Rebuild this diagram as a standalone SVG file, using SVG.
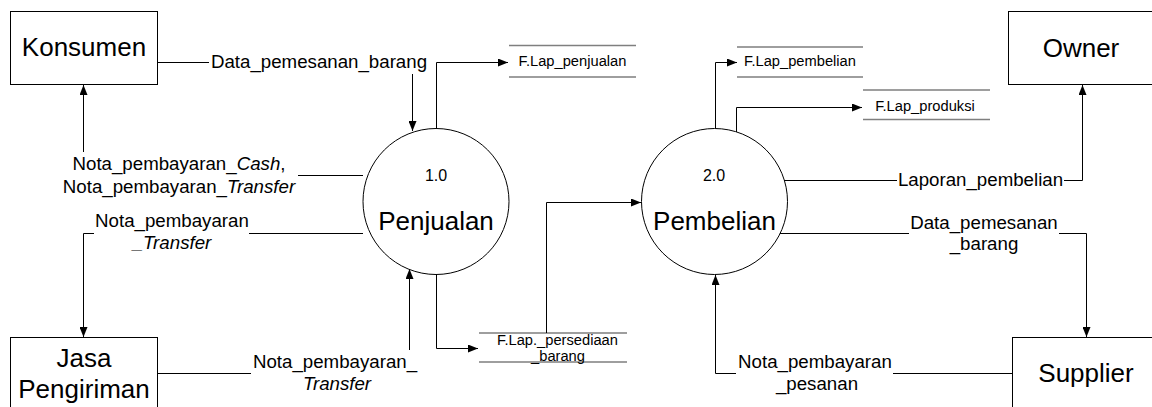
<svg xmlns="http://www.w3.org/2000/svg" width="1152" height="407" viewBox="0 0 1152 407">
<style>
.box{fill:#fff;stroke:#000;stroke-width:1}
.proc{fill:#fff;stroke:#000;stroke-width:1}
.ent{font-family:"Liberation Sans",Arial,sans-serif;font-size:26px;fill:#000;text-anchor:middle}
.num{font-family:"Liberation Sans",Arial,sans-serif;font-size:16px;fill:#000;text-anchor:middle}
.lbl{font-family:"Liberation Sans",Arial,sans-serif;font-size:18.7px;fill:#000;text-anchor:middle}
.st{font-family:"Liberation Sans",Arial,sans-serif;font-size:14.7px;fill:#000;text-anchor:middle}
.stl{stroke:#7f7f7f;stroke-width:1.3;fill:none}
.con{stroke:#000;stroke-width:1;fill:none;marker-end:url(#arr)}
.ln{stroke:#000;stroke-width:1;fill:none}
</style>
<defs>
<marker id="arr" markerWidth="10" markerHeight="8" refX="10" refY="4" orient="auto" markerUnits="userSpaceOnUse">
<path d="M0,0 L10,4 L0,8 z" fill="#000"/>
</marker>
</defs>
<rect width="1152" height="407" fill="#fff"/>

<g id="konsumen">
<rect class="box" x="10.5" y="11.5" width="147" height="73"/>
<text class="ent" x="84" y="56">Konsumen</text>
</g>
<g id="jasa">
<rect class="box" x="10.5" y="337.5" width="147" height="73"/>
<text class="ent" x="84" y="367">Jasa</text>
<text class="ent" x="84" y="398">Pengiriman</text>
</g>
<g id="owner">
<rect class="box" x="1008.5" y="11.5" width="147" height="73"/>
<text class="ent" x="1081" y="57">Owner</text>
</g>
<g id="supplier">
<rect class="box" x="1012.5" y="337.5" width="148" height="73"/>
<text class="ent" x="1086" y="382">Supplier</text>
</g>

<g id="p1">
<circle class="proc" cx="436" cy="201.5" r="73"/>
<text class="num" x="436" y="181">1.0</text>
<text class="ent" x="436" y="230">Penjualan</text>
</g>
<g id="p2">
<circle class="proc" cx="714.5" cy="201.5" r="73"/>
<text class="num" x="714" y="181">2.0</text>
<text class="ent" x="714.5" y="230">Pembelian</text>
</g>

<g id="ds-penjualan">
<path class="stl" d="M509,45.5 H636 M509,77 H636"/>
<text class="st" x="572.5" y="66">F.Lap_penjualan</text>
</g>
<g id="ds-pembelian">
<path class="stl" d="M737,47 H863 M737,77 H863"/>
<text class="st" x="800" y="66">F.Lap_pembelian</text>
</g>
<g id="ds-produksi">
<path class="stl" d="M863,90 H990 M863,119.5 H990"/>
<text class="st" x="925" y="111">F.Lap_produksi</text>
</g>
<g id="ds-persediaan">
<path class="stl" d="M479,333 H627 M479,362 H627"/>
<text class="st" x="557.5" y="345">F.Lap._persediaan</text>
<text class="st" x="558" y="361">_barang</text>
</g>

<g id="connectors">
<path class="con" d="M157,62.5 H209 M412.5,74 V131"/>
<path class="con" d="M436.5,128 V62.5 H508"/>
<path class="con" d="M363,175.5 H298 M83.5,152 V85"/>
<path class="con" d="M363,233.5 H249 M94,233.5 H83.5 V337"/>
<path class="con" d="M157,373.5 H251 M409.5,350 V269"/>
<path class="con" d="M436.5,274 V348.5 H478"/>
<path class="con" d="M546.5,333 V202.5 H641"/>
<path class="con" d="M715.5,128 V62.5 H737"/>
<path class="con" d="M736.5,132 V107.5 H862"/>
<path class="con" d="M784,180.5 H897 M1064,180.5 H1082.5 V85"/>
<path class="con" d="M780,233.5 H909 M1059,233.5 H1086.5 V337"/>
<path class="con" d="M1012,373.5 H893 M736,373.5 H715.5 V275"/>
</g>

<g id="labels">
<text class="lbl" x="319" y="68">Data_pemesanan_barang</text>
<text class="lbl" x="179" y="170">Nota_pembayaran_<tspan font-style="italic">Cash</tspan>,</text>
<text class="lbl" x="179" y="193">Nota_pembayaran_<tspan font-style="italic">Transfer</tspan></text>
<text class="lbl" x="172" y="227">Nota_pembayaran</text>
<text class="lbl" x="172" y="249" font-style="italic">_Transfer</text>
<text class="lbl" x="335" y="368">Nota_pembayaran_</text>
<text class="lbl" x="337" y="390" font-style="italic">Transfer</text>
<text class="lbl" x="980.5" y="186">Laporan_pembelian</text>
<text class="lbl" x="984" y="229">Data_pemesanan</text>
<text class="lbl" x="984" y="250">_barang</text>
<text class="lbl" x="815" y="368">Nota_pembayaran</text>
<text class="lbl" x="817" y="390">_pesanan</text>
</g>
</svg>
